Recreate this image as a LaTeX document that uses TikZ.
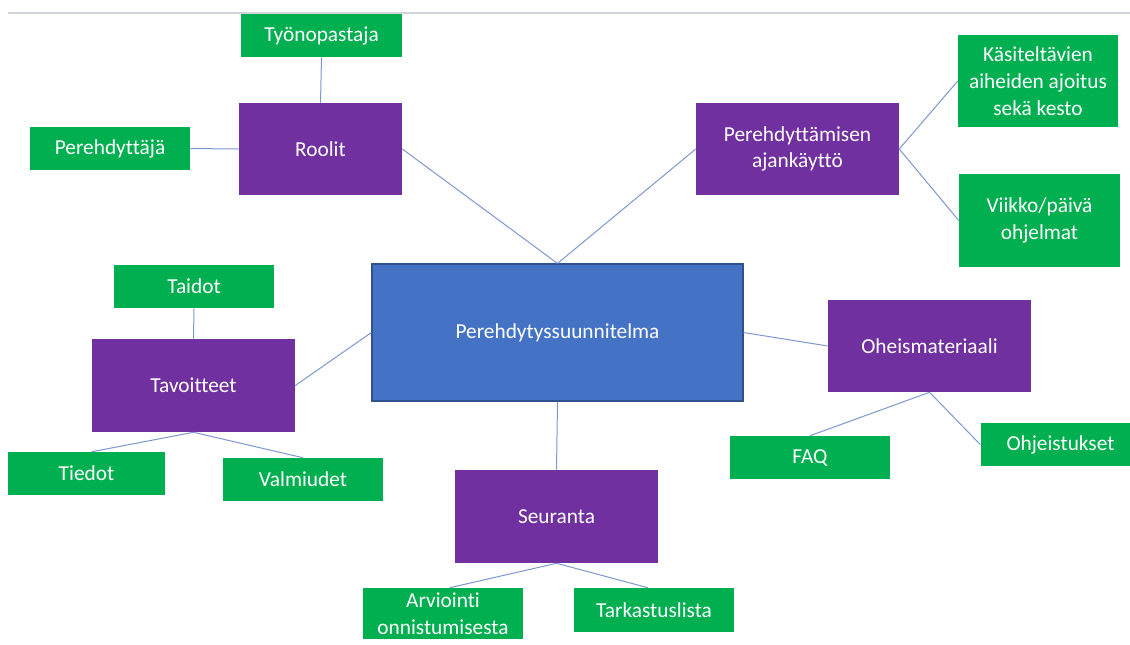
\documentclass[tikz,border=0pt]{standalone}
\usepackage{fontspec}
\setmainfont[Ligatures=NoCommon]{Carlito}
\definecolor{gbox}{RGB}{0,176,80}
\definecolor{pbox}{RGB}{112,48,160}
\definecolor{bbox}{RGB}{68,114,196}
\definecolor{bborder}{RGB}{47,82,143}
\definecolor{conn}{RGB}{125,152,208}
\definecolor{topline}{RGB}{210,212,220}
\begin{document}
\begin{tikzpicture}[x=0.75pt,y=-0.75pt,
  box/.style={rectangle,inner sep=0pt,align=center,text=white,
    font=\fontsize{16}{20}\selectfont},
  gnode/.style={box,fill=gbox,minimum width=120pt,minimum height=32.25pt},
  pnode/.style={box,fill=pbox,minimum width=152.25pt,minimum height=69pt},
  cnode/.style={box,fill=bbox,draw=bborder,line width=0.9pt,minimum width=278.25pt,minimum height=102.75pt},
  link/.style={draw=conn,line width=0.75pt}]
\clip (0,0) rectangle (1130,644);
\fill[white] (0,0) rectangle (1130,644);
\coordinate (tl1) at (8,13);
\coordinate (tl2) at (1130,13);
\draw[topline,line width=0.9pt] (tl1) -- (tl2);

\node[cnode] (c) at (557.5,332.5) {Perehdytyssuunnitelma};

\node[pnode,minimum width=122.25pt] (roolit) at (320.5,149) {Roolit};
\node[gnode,minimum width=120.75pt] (tyo) at (321.5,35.5) {Työnopastaja};
\node[gnode] (pere) at (110,148.5) {Perehdyttäjä};

\node[pnode] (aika) at (797.5,149) {Perehdyttämisen\\ajankäyttö};
\node[gnode,minimum height=69pt] (kasit) at (1038,81) {Käsiteltävien\\aiheiden ajoitus\\sekä kesto};
\node[gnode,minimum width=120.75pt,minimum height=69.75pt] (viikko) at (1039.5,220.5) {Viikko/päivä\\ohjelmat};

\node[gnode] (taidot) at (194,286.5) {Taidot};
\node[pnode,minimum height=69.75pt] (tavo) at (193.5,385.5) {Tavoitteet};
\node[gnode,minimum width=117.75pt] (tiedot) at (86.5,473.5) {Tiedot};
\node[gnode] (valm) at (303,479.5) {Valmiudet};

\node[pnode,minimum height=69.75pt] (seur) at (556.5,516.5) {Seuranta};
\node[gnode,minimum height=38.25pt] (arvi) at (443,613.5) {Arviointi\\onnistumisesta};
\node[gnode,minimum height=33pt] (tark) at (654,610) {Tarkastuslista};

\node[pnode] (ohei) at (929.5,346) {Oheismateriaali};
\node[gnode] (faq) at (810,457.5) {FAQ};
\node[gnode,minimum height=32.25pt] (ohje) at (1060.5,444.5) {Ohjeistukset};

\draw[link] (roolit.north) -- (tyo.south);
\draw[link] (roolit.west) -- (pere.east);
\draw[link] (roolit.east) -- (c.north);
\draw[link] (aika.west) -- (c.north);
\draw[link] (aika.east) -- (kasit.west);
\draw[link] (aika.east) -- (viikko.west);
\draw[link] (c.west) -- (tavo.east);
\draw[link] (tavo.north) -- (taidot.south);
\draw[link] (tavo.south) -- ([xshift=4pt]tiedot.north);
\draw[link] (tavo.south) -- (valm.north);
\draw[link] (c.south) -- (seur.north);
\draw[link] (seur.south) -- ([xshift=5pt]arvi.north);
\draw[link] (seur.south) -- ([xshift=-4.5pt]tark.north);
\draw[link] (c.east) -- (ohei.west);
\draw[link] (ohei.south) -- (faq.north);
\draw[link] (ohei.south) -- (ohje.west);
\end{tikzpicture}
\end{document}
